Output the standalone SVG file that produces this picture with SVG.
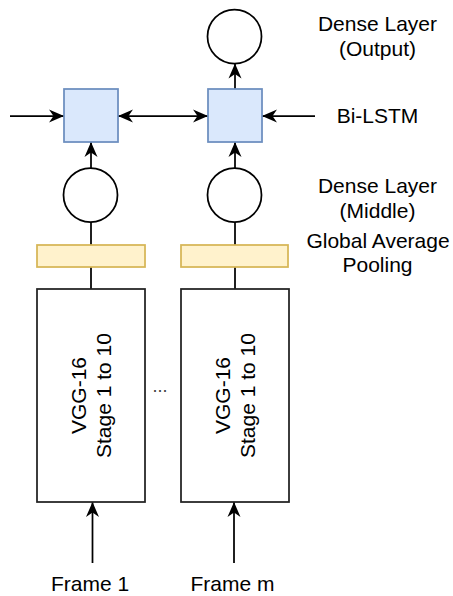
<svg xmlns="http://www.w3.org/2000/svg" width="453" height="596" viewBox="0 0 453 596">
  <style>
    text { font-family: "Liberation Sans", Arial, sans-serif; font-size: 21px; fill: #000; }
    .lbl { text-anchor: middle; }
    .unit { fill: #fff; stroke: #000; stroke-width: 1.75; }
    .lstm { fill: #dae8fc; stroke: #6c8ebf; stroke-width: 1.75; }
    .pool { fill: #fff2cc; stroke: #d6b656; stroke-width: 1.75; }
    .box { fill: #fff; stroke: #222; stroke-width: 1.75; }
    .edge { fill: none; stroke: #000; stroke-width: 1.75; }
  </style>
  <defs>
    <marker id="head" markerUnits="userSpaceOnUse" markerWidth="18" markerHeight="16" viewBox="-16 -8 18 16" refX="0" refY="0" orient="auto-start-reverse">
      <path d="M0,0 L-15,-6.5 L-10.5,0 L-15,6.5 Z" fill="#000"/>
    </marker>
  </defs>

  <!-- connectors -->
  <g id="connectors">
    <line class="edge" x1="10" y1="116" x2="64" y2="116" marker-end="url(#head)"/>
    <line class="edge" x1="118" y1="116" x2="208" y2="116" marker-start="url(#head)" marker-end="url(#head)"/>
    <line class="edge" x1="315" y1="116" x2="262" y2="116" marker-end="url(#head)"/>
    <line class="edge" x1="235" y1="89" x2="235" y2="63.5" marker-end="url(#head)"/>
    <line class="edge" x1="91" y1="168" x2="91" y2="142" marker-end="url(#head)"/>
    <line class="edge" x1="235" y1="168" x2="235" y2="142" marker-end="url(#head)"/>
    <line class="edge" x1="91" y1="222" x2="91" y2="245"/>
    <line class="edge" x1="235" y1="222" x2="235" y2="245"/>
    <line class="edge" x1="91" y1="267" x2="91" y2="289"/>
    <line class="edge" x1="235" y1="267" x2="235" y2="289"/>
    <line class="edge" x1="92.5" y1="563" x2="92.5" y2="502" marker-end="url(#head)"/>
    <line class="edge" x1="234" y1="563" x2="234" y2="502" marker-end="url(#head)"/>
  </g>

  <!-- output dense unit -->
  <g id="dense-output">
    <circle class="unit" cx="234.5" cy="36.5" r="27"/>
  </g>

  <!-- Bi-LSTM cells -->
  <g id="lstm-1"><rect class="lstm" x="64" y="89" width="54" height="53"/></g>
  <g id="lstm-m"><rect class="lstm" x="208" y="89" width="54" height="53"/></g>

  <!-- middle dense units -->
  <g id="dense-1"><circle class="unit" cx="90.5" cy="195" r="27"/></g>
  <g id="dense-m"><circle class="unit" cx="234.5" cy="195" r="27"/></g>

  <!-- global average pooling -->
  <g id="pool-1"><rect class="pool" x="37" y="245" width="108" height="22"/></g>
  <g id="pool-m"><rect class="pool" x="181" y="245" width="107" height="22"/></g>

  <!-- VGG-16 backbones -->
  <g id="vgg-1">
    <rect class="box" x="37" y="289" width="108" height="213"/>
    <g transform="translate(91,395.5) rotate(-90)">
      <text class="lbl" x="0" y="-5.3">VGG-16</text>
      <text class="lbl" x="0" y="19.9">Stage 1 to 10</text>
    </g>
  </g>
  <g id="vgg-m">
    <rect class="box" x="181" y="289" width="108" height="213"/>
    <g transform="translate(235,395.5) rotate(-90)">
      <text class="lbl" x="0" y="-5.3">VGG-16</text>
      <text class="lbl" x="0" y="19.9">Stage 1 to 10</text>
    </g>
  </g>

  <!-- ellipsis between frames -->
  <g id="ellipsis">
    <text class="lbl" x="160" y="392" style="font-size:18px; fill:#444;">...</text>
  </g>

  <!-- layer labels -->
  <g id="labels">
    <text class="lbl" x="377.5" y="31">Dense Layer</text>
    <text class="lbl" x="377.5" y="56">(Output)</text>
    <text class="lbl" x="377.5" y="123">Bi-LSTM</text>
    <text class="lbl" x="377.5" y="193">Dense Layer</text>
    <text class="lbl" x="377.5" y="218">(Middle)</text>
    <text class="lbl" x="378" y="248">Global Average</text>
    <text class="lbl" x="377.5" y="272">Pooling</text>
    <text class="lbl" x="90" y="591">Frame 1</text>
    <text class="lbl" x="232.5" y="591">Frame m</text>
  </g>
</svg>
